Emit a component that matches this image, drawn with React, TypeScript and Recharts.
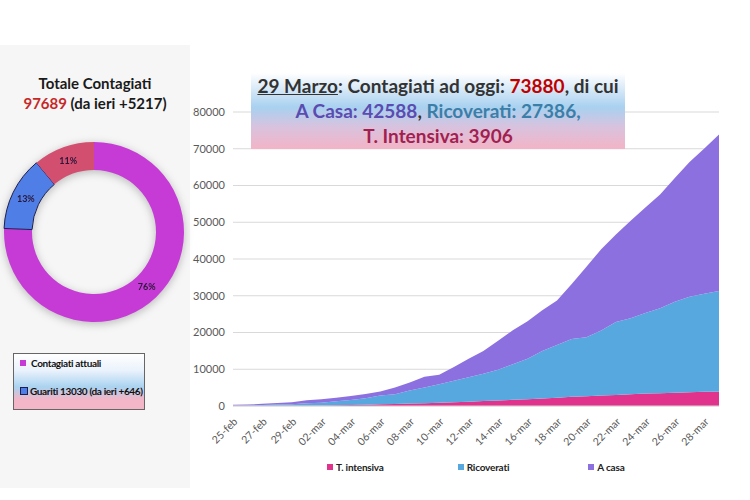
import React from 'react';
import { AreaChart, Area, XAxis, YAxis, CartesianGrid, Legend, PieChart, Pie, Cell } from 'recharts';

// daily figures, 25 Feb - 29 Mar
const dates = [
  '25-feb', '26-feb', '27-feb', '28-feb', '29-feb',
  '01-mar', '02-mar', '03-mar', '04-mar', '05-mar', '06-mar', '07-mar', '08-mar', '09-mar', '10-mar',
  '11-mar', '12-mar', '13-mar', '14-mar', '15-mar', '16-mar', '17-mar', '18-mar', '19-mar', '20-mar',
  '21-mar', '22-mar', '23-mar', '24-mar', '25-mar', '26-mar', '27-mar', '28-mar', '29-mar',
];
const terapiaIntensiva = [
  35, 36, 56, 64, 105,
  140, 166, 229, 295, 351, 462, 567, 650, 733, 877,
  1028, 1153, 1328, 1518, 1672, 1851, 2060, 2257, 2498, 2655,
  2857, 3009, 3204, 3396, 3489, 3612, 3732, 3856, 3906,
];
const ricoverati = [
  114, 128, 248, 345, 401,
  639, 742, 1034, 1346, 1790, 2394, 2651, 3557, 4316, 5038,
  5838, 6650, 7426, 8372, 9663, 11025, 12894, 14363, 15757, 16020,
  17708, 19846, 20692, 21937, 23112, 24753, 26029, 26676, 27386,
];
const aCasa = [
  162, 221, 284, 412, 543,
  798, 927, 1000, 1065, 1155, 1060, 1843, 2180, 2936, 2599,
  3724, 5036, 6201, 7860, 9268, 10197, 11108, 12090, 14935, 19185,
  22116, 23783, 26522, 28697, 30920, 33648, 36653, 39533, 42588,
];
const yTicks = [0, 10000, 20000, 30000, 40000, 50000, 60000, 70000, 80000];

const donutNames = ['Contagiati attuali', 'Guariti', 'Deceduti'];
const donutValues = [73880, 13030, 10779];
const donutColors = ['#c63bd6', '#4f7fe6', '#d34f70'];

const AREA_COLORS = { ti: '#e2338c', ric: '#57a8de', casa: '#8c70e0' };
const FONT = 'Lato, "Open Sans", sans-serif';

const chartData = dates.map((d, i) => ({
  date: d,
  ti: terapiaIntensiva[i],
  ric: ricoverati[i],
  casa: aCasa[i],
}));
const donutData = donutNames.map((n, i) => ({ name: n, value: donutValues[i] }));

const RADIAN = Math.PI / 180;
const renderPct = (p: any) => {
  const r = (p.innerRadius + p.outerRadius) / 2;
  const x = p.cx + r * Math.cos(-p.midAngle * RADIAN);
  const y = p.cy + r * Math.sin(-p.midAngle * RADIAN);
  return (
    <text x={x} y={y} textAnchor="middle" dominantBaseline="central" fontSize={9} fontWeight={700} fill="#2b1638" fontFamily={FONT}>
      {`${Math.round(p.percent * 100)}%`}
    </text>
  );
};

const legendItems = [
  { label: 'T. intensiva', color: AREA_COLORS.ti },
  { label: 'Ricoverati', color: AREA_COLORS.ric },
  { label: 'A casa', color: AREA_COLORS.casa },
];

const AreaLegend = () => (
  <div style={{ display: 'flex', paddingLeft: 137, fontFamily: FONT, fontSize: 10, fontWeight: 700, color: '#222', letterSpacing: -0.2 }}>
    {legendItems.map(it => (
      <div key={it.label} style={{ width: 139, display: 'flex', alignItems: 'center' }}>
        <span style={{ width: 6, height: 6, background: it.color, marginRight: 3, display: 'inline-block' }} />
        {it.label}
      </div>
    ))}
  </div>
);

export default function App() {
  return (
    <div style={{ position: 'absolute', left: 0, top: 0, width: 750, height: 500, background: '#fff', overflow: 'hidden', fontFamily: FONT }}>
      {/* left panel */}
      <div style={{ position: 'absolute', left: 0, top: 45, width: 190, height: 443, background: '#f6f6f6' }}>
        <div style={{ position: 'absolute', top: 28, width: 190, textAlign: 'center', fontSize: 15, fontWeight: 700, color: '#1a1a1a', lineHeight: '20px' }}>
          Totale Contagiati
          <br />
          <span style={{ color: '#c62828' }}>97689</span> (da ieri +5217)
        </div>
        <div style={{ position: 'absolute', left: 0, top: 92, filter: 'drop-shadow(0 2px 4px rgba(0,0,0,0.25))' }}>
          <PieChart width={190} height={190} margin={{ top: 0, right: 0, bottom: 0, left: 0 }}>
            <Pie
              data={donutData}
              dataKey="value"
              cx={94}
              cy={95}
              innerRadius={62}
              outerRadius={90}
              startAngle={90}
              endAngle={-270}
              label={renderPct}
              labelLine={false}
              isAnimationActive={false}
            >
              {donutData.map((d, i) => (
                <Cell key={d.name} fill={donutColors[i]} stroke={i === 1 ? '#1d1d50' : 'none'} strokeWidth={i === 1 ? 1 : 0} />
              ))}
            </Pie>
          </PieChart>
        </div>
        <div
          style={{
            position: 'absolute', left: 13, top: 308, width: 130, height: 55,
            border: '1.5px solid #666',
            background: 'linear-gradient(to bottom, #ffffff 0%, #eaf2fb 30%, #a9d3f0 60%, #f2b6c8 82%, #f2b6c8 100%)',
            fontSize: 10, fontWeight: 700, color: '#111', letterSpacing: -0.35,
          }}
        >
          <div style={{ position: 'absolute', left: 6, top: 3, display: 'flex', alignItems: 'center' }}>
            <span style={{ width: 6, height: 6, background: donutColors[0], marginRight: 5 }} />
            Contagiati attuali
          </div>
          <div style={{ position: 'absolute', left: 6, top: 31, display: 'flex', alignItems: 'center', whiteSpace: 'nowrap' }}>
            <span style={{ width: 6, height: 6, background: donutColors[1], border: '1px solid #1d1d50', marginRight: 2 }} />
            Guariti 13030 (da ieri +646)
          </div>
        </div>
      </div>

      {/* stacked area chart */}
      <div style={{ position: 'absolute', left: 190, top: 100 }}>
        <AreaChart width={545} height={400} data={chartData} margin={{ top: 12, right: 16, bottom: 27, left: 0 }}>
          <CartesianGrid vertical={false} stroke="#d9d9d9" />
          <XAxis
            dataKey="date"
            interval={1}
            angle={-45}
            textAnchor="end"
            height={55}
            tickLine={false}
            tickMargin={5}
            axisLine={{ stroke: '#d9d9d9' }}
            tick={{ fontSize: 10.5, fill: '#595959', fontFamily: FONT }}
          />
          <YAxis
            domain={[0, 80000]}
            ticks={yTicks}
            width={43}
            axisLine={false}
            tickLine={false}
            tickMargin={2}
            tick={{ fontSize: 11, fill: '#595959', fontFamily: FONT }}
          />
          <Legend verticalAlign="bottom" content={<AreaLegend />} />
          <Area type="linear" dataKey="ti" name="T. intensiva" stackId="1" stroke="none" fill={AREA_COLORS.ti} fillOpacity={1} isAnimationActive={false} />
          <Area type="linear" dataKey="ric" name="Ricoverati" stackId="1" stroke="none" fill={AREA_COLORS.ric} fillOpacity={1} isAnimationActive={false} />
          <Area type="linear" dataKey="casa" name="A casa" stackId="1" stroke="none" fill={AREA_COLORS.casa} fillOpacity={1} isAnimationActive={false} />
        </AreaChart>
      </div>

      {/* headline box */}
      <div
        style={{
          position: 'absolute', left: 251, top: 73, width: 374, height: 76,
          background: 'linear-gradient(to bottom, #ffffff 0%, #d6e8f7 22%, #a8d1f0 45%, #d7c3df 70%, #f3b4c6 100%)',
          textAlign: 'center', fontSize: 19, fontWeight: 700, lineHeight: '25px', boxSizing: 'border-box',
        }}
      >
        <div style={{ color: '#333' }}>
          <span style={{ textDecoration: 'underline' }}>29 Marzo</span>: Contagiati ad oggi: <span style={{ color: '#c00000' }}>73880</span>, di cui
        </div>
        <div>
          <span style={{ color: '#5a4cb0' }}>A Casa: 42588</span>
          <span style={{ color: '#333' }}>, </span>
          <span style={{ color: '#3b7fa8' }}>Ricoverati: 27386,</span>
        </div>
        <div style={{ color: '#a21f50' }}>T. Intensiva: 3906</div>
      </div>
    </div>
  );
}
